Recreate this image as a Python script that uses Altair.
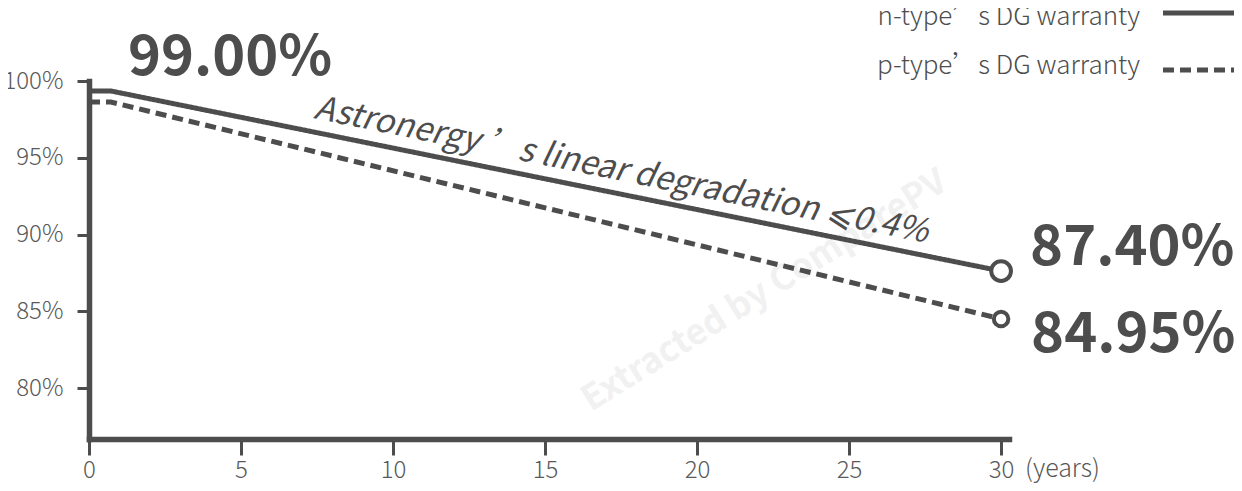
import altair as alt
import pandas as pd

# ---- data ----
series = ["n-type’s DG warranty", "p-type’s DG warranty"]
years_n = [0, 0.72, 30]
values_n = [99.35, 99.35, 87.62]
years_p = [0, 0.72, 30]
values_p = [98.63, 98.63, 84.5]
start_label = "99.00%"
end_labels = ["87.40%", "84.95%"]
annotation = "Astronergy ’s linear degradation ⩽0.4%"
watermark = "Extracted by ComparePV"
x_ticks = [0, 5, 10, 15, 20, 25, 30]
y_ticks = [80, 85, 90, 95, 100]
x_unit = "(years)"

C = "#4d4d4d"
LBL = "#595959"
F = "Noto Sans CJK SC"

lines = pd.DataFrame({
    "x": years_n + years_p,
    "y": values_n + values_p,
    "series": [series[0]] * len(years_n) + [series[1]] * len(years_p),
})
ends = pd.DataFrame({
    "x": [years_n[-1], years_p[-1]],
    "y": [values_n[-1], values_p[-1]],
    "series": series,
    "label": end_labels,
})
start = pd.DataFrame({"x": [years_n[0]], "y": [values_n[0]], "label": [start_label]})
one = pd.DataFrame({"k": [0]})

xscale = alt.Scale(domain=[0, 30.26], nice=False, zero=False)
yscale = alt.Scale(domain=[76.68, 100], nice=False, zero=False)
common_axis = dict(
    title=None, grid=False, domainColor=C, domainWidth=5.5, domainCap="square",
    tickColor=C, tickWidth=3, labelFont=F, labelFontWeight=300, labelFontSize=24,
    labelColor=LBL, labelFlush=False,
)
X = alt.X("x:Q", scale=xscale, axis=alt.Axis(values=x_ticks, tickSize=16, labelPadding=3, **common_axis))
Y = alt.Y("y:Q", scale=yscale, axis=alt.Axis(values=y_ticks, labelExpr="datum.value + '%'",
                                              tickSize=12, labelPadding=14, **common_axis))

wm = alt.Chart(one).mark_text(
    text=watermark, font=F, fontWeight="bold", fontSize=35, color="#f1f1f1",
    align="left", baseline="alphabetic", angle=328,
).encode(x=alt.value(502), y=alt.value(331))

line_layer = alt.Chart(lines).mark_line(color=C, strokeWidth=5, strokeCap="butt").encode(
    x=X, y=Y,
    strokeDash=alt.StrokeDash("series:N", scale=alt.Scale(domain=series, range=[[1, 0], [11, 6]]), legend=None),
    detail="series:N",
)

points = alt.Chart(ends).mark_point(filled=True, fill="white", stroke=C, strokeWidth=4, opacity=1).encode(
    x=X, y=Y,
    size=alt.Size("series:N", scale=alt.Scale(domain=series, range=[390, 210]), legend=None),
)

big = dict(font=F, fontWeight="bold", fontSize=56, color=C, align="left", baseline="alphabetic")
start_text = alt.Chart(start).mark_text(dx=39, dy=-16, **big).encode(x=X, y=Y, text="label:N")
end_n = alt.Chart(ends).transform_filter(alt.datum.series == series[0]).mark_text(dx=29, dy=-6, **big).encode(
    x=X, y=Y, text="label:N")
end_p = alt.Chart(ends).transform_filter(alt.datum.series == series[1]).mark_text(dx=30, dy=33, **big).encode(
    x=X, y=Y, text="label:N")

annot = alt.Chart(one).mark_text(
    text=annotation, font=F, fontStyle="italic", fontWeight="normal", fontSize=33, color=C,
    align="left", baseline="alphabetic", angle=11.5,
).encode(x=alt.value(224), y=alt.value(37))

leg_txt = dict(font=F, fontSize=26, fontWeight=300, color=C, align="right", baseline="alphabetic")
leg1 = alt.Chart(one).mark_text(text=series[0], **leg_txt).encode(x=alt.value(1051), y=alt.value(-56))
leg2 = alt.Chart(one).mark_text(text=series[1], **leg_txt).encode(x=alt.value(1051), y=alt.value(-7))
leg1_line = alt.Chart(one).mark_rule(color=C, strokeWidth=5).encode(
    x=alt.value(1074), x2=alt.value(1160), y=alt.value(-68))
leg2_line = alt.Chart(one).mark_rule(color=C, strokeWidth=5, strokeDash=[11, 6]).encode(
    x=alt.value(1074), x2=alt.value(1160), y=alt.value(-11))

years_txt = alt.Chart(one).mark_text(
    text=x_unit, font=F, fontWeight=300, fontSize=25, color=LBL, align="left", baseline="top",
).encode(x=alt.value(936), y=alt.value(376))

chart = alt.layer(
    wm, line_layer, points, start_text, end_n, end_p, annot,
    leg1, leg2, leg1_line, leg2_line, years_txt,
).properties(
    width=920, height=358,
    autosize=alt.AutoSizeParams(type="none"),
    padding={"left": 81, "top": 73, "right": 225, "bottom": 44},
).configure(background="white").configure_view(stroke=None)

chart.save("out.html", embed_options={"renderer": "svg", "actions": False})
